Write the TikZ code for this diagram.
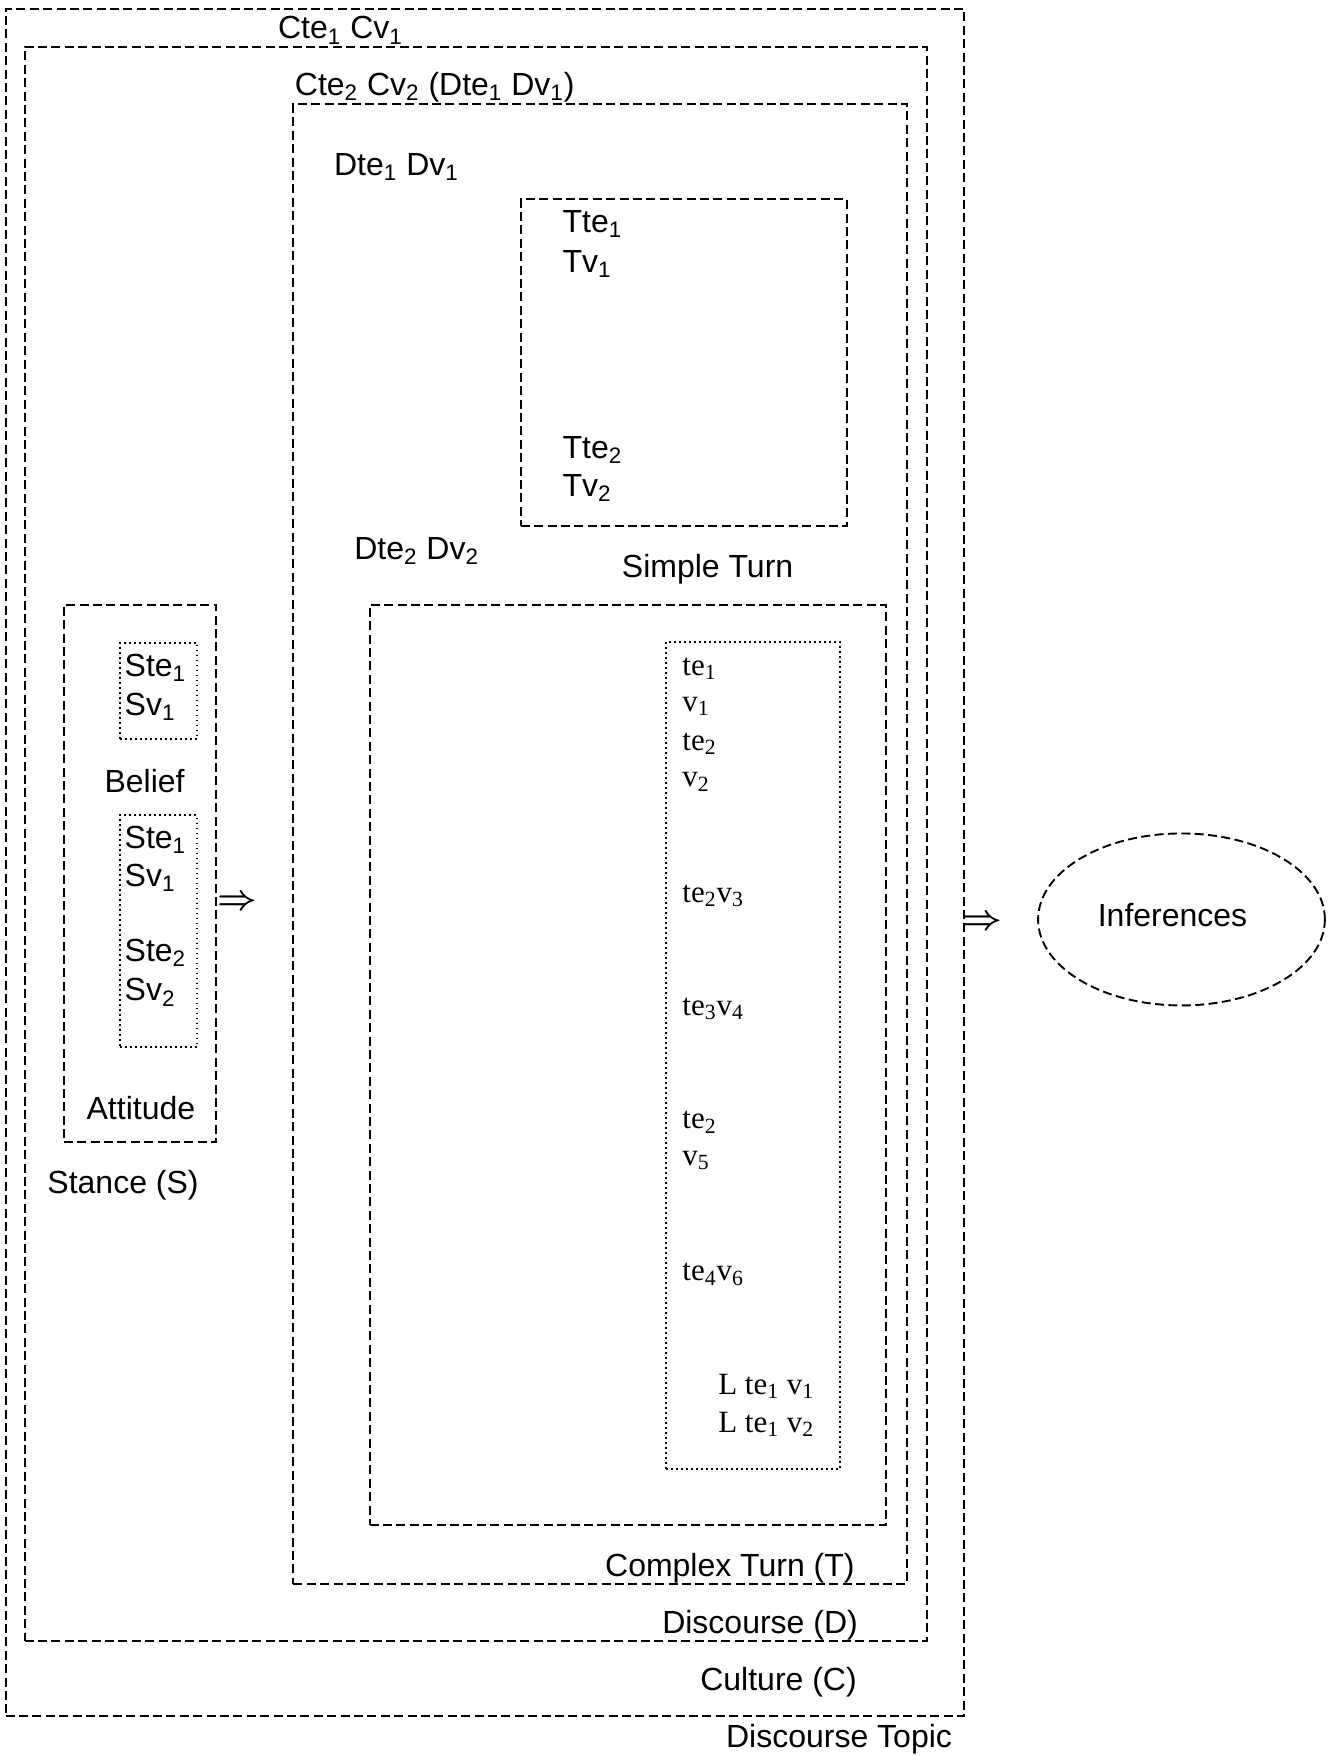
\documentclass[tikz,border=0pt]{standalone}
\usepackage{fontspec}
\setmainfont{Liberation Sans}
\newfontfamily\serifface{Liberation Serif}
\usetikzlibrary{shapes.geometric,fit}
\newcommand{\sbx}[1]{\textsubscript{#1}}
\begin{document}
\begin{tikzpicture}[x=0.56pt,y=-0.56pt,
  dbox/.style={draw, line width=0.95pt, dash pattern=on 4.5pt off 2.2pt, inner sep=0pt},
  obox/.style={draw, line width=1pt, dash pattern=on 0.9pt off 1.6pt, inner sep=0pt},
  lbl/.style={inner sep=0pt, anchor=west, font=\fontsize{16}{19}\selectfont},
  slbl/.style={inner sep=0pt, anchor=west, font=\serifface\fontsize{15.5}{18}\selectfont},
  arr/.style={inner sep=0pt, font=\boldmath\fontsize{18}{20}\selectfont},
]
\useasboundingbox (0,0) rectangle (1192,1568);

% nested boxes
\node[dbox, fit={(5,8) (861,1532)}] (topic) {};
\node[dbox, fit={(22,42) (828,1465)}] (culture) {};
\node[dbox, fit={(262,93) (810,1414)}] (complex) {};
\node[dbox, fit={(465,178) (756,470)}] (simple) {};
\node[dbox, fit={(330,540) (791,1362)}] (dte2box) {};
\node[obox, fit={(595,573) (750,1312)}] (tebox) {};

% stance
\node[dbox, fit={(57,540) (193,1020)}] (stance) {};
\node[obox, fit={(107,574) (176,660)}] (belief) {};
\node[obox, fit={(107,728) (176,935)}] (attitude) {};

% ellipse
\node[dbox, ellipse, minimum width=143.4pt, minimum height=86pt] (inf) at (1055,821) {};
\node[inner sep=0pt, font=\fontsize{16}{19}\selectfont] (linf) at (1047,817) {Inferences};

% top labels
\node[lbl] (lc1) at (248,27) {Cte\sbx{1} Cv\sbx{1}};
\node[lbl] (lc2) at (263,78) {Cte\sbx{2} Cv\sbx{2} (Dte\sbx{1} Dv\sbx{1})};
\node[lbl] (ld1) at (298,149) {Dte\sbx{1} Dv\sbx{1}};
\node[lbl] (ld2) at (316,492) {Dte\sbx{2} Dv\sbx{2}};

% simple turn texts
\node[lbl] (tte1) at (502,200) {Tte\sbx{1}};
\node[lbl] (tv1) at (502,236) {Tv\sbx{1}};
\node[lbl] (tte2) at (502,402) {Tte\sbx{2}};
\node[lbl] (tv2) at (502,436) {Tv\sbx{2}};
\node[lbl] (lsimple) at (555,508) {Simple Turn};

% bottom labels
\node[lbl] (lcomplex) at (540,1400) {Complex Turn (T)};
\node[lbl] (ldisc) at (591,1451) {Discourse (D)};
\node[lbl] (lcult) at (625,1502) {Culture (C)};
\node[lbl] (ltopic) at (648,1553) {Discourse Topic};

% te/v column
\node[slbl] (s1) at (609,597) {te\sbx{1}};
\node[slbl] (s2) at (609,631) {v\sbx{1}};
\node[slbl] (s3) at (609,664) {te\sbx{2}};
\node[slbl] (s4) at (609,698) {v\sbx{2}};
\node[slbl] (s5) at (609,800) {te\sbx{2}v\sbx{3}};
\node[slbl] (s6) at (609,901) {te\sbx{3}v\sbx{4}};
\node[slbl] (s7) at (609,1002) {te\sbx{2}};
\node[slbl] (s8) at (609,1036) {v\sbx{5}};
\node[slbl] (s9) at (609,1138) {te\sbx{4}v\sbx{6}};
\node[slbl] (s10) at (641,1238) {L te\sbx{1} v\sbx{1}};
\node[slbl] (s11) at (641,1272) {L te\sbx{1} v\sbx{2}};

% stance texts
\node[lbl] (st1) at (111,596) {Ste\sbx{1}};
\node[lbl] (sv1) at (111,631) {Sv\sbx{1}};
\node[lbl] (lbelief) at (93,697) {Belief};
\node[lbl] (st1b) at (111,750) {Ste\sbx{1}};
\node[lbl] (sv1b) at (111,784) {Sv\sbx{1}};
\node[lbl] (st2) at (111,851) {Ste\sbx{2}};
\node[lbl] (sv2) at (111,886) {Sv\sbx{2}};
\node[lbl] (lattitude) at (77,989) {Attitude};
\node[lbl] (lstance) at (42,1058) {Stance (S)};

% implication arrows
\node[arr] (imp1) at (212,806) {$\Rightarrow$};
\node[arr] (imp2) at (877,824) {$\Rightarrow$};
\end{tikzpicture}
\end{document}
